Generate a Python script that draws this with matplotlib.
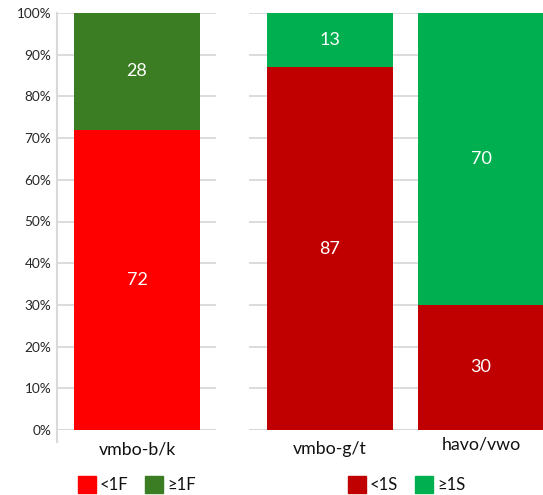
import matplotlib
matplotlib.use("Agg")
import matplotlib.pyplot as plt
from matplotlib.patches import Rectangle
from matplotlib.lines import Line2D

plt.rcParams['font.family'] = ['Lato', 'DejaVu Sans']

# Left panel data
left_cats = ["vmbo-b/k"]
left_below = [72]
left_above = [28]
left_names = ["<1F", "≥1F"]
left_colors = ["#FF0000", "#3A7D22"]

# Right panel data
right_cats = ["vmbo-g/t", "havo/vwo"]
right_below = [87, 30]
right_above = [13, 70]
right_names = ["<1S", "≥1S"]
right_colors = ["#C00000", "#00B050"]

yticks = list(range(0, 101, 10))
ytick_labels = [f"{v}%" for v in yticks]

W, H = 543, 495
fig = plt.figure(figsize=(W / 100, H / 100), dpi=100)

bottom = (H - 430) / H
height = (430 - 13) / H
unit = 151.0  # pixels per category step
bar_w = 126 / unit
grid_c = "#D9D9D9"
axis_c = "#BFBFBF"
text_c = "#111111"


def px(x):
    return x / W


axL = fig.add_axes([px(57), bottom, px(216 - 57), height])
axR = fig.add_axes([px(249), bottom, px(543 - 249), height])


def draw_panel(ax, cats, below, above, colors, xlim):
    xs = list(range(len(cats)))
    ax.bar(xs, below, width=bar_w, color=colors[0], zorder=2)
    ax.bar(xs, above, width=bar_w, bottom=below, color=colors[1], zorder=2)
    for x, b, a in zip(xs, below, above):
        ax.text(x, b / 2, f"{b}", ha="center", va="center", color="white", fontsize=13, zorder=3)
        ax.text(x, b + a / 2, f"{a}", ha="center", va="center", color="white", fontsize=13, zorder=3)
    ax.set_xlim(*xlim)
    ax.set_ylim(0, 100)
    ax.set_yticks(yticks)
    ax.grid(axis="y", color=grid_c, linewidth=1.3, zorder=0)
    for s in ax.spines.values():
        s.set_visible(False)
    ax.axhline(0, color=axis_c, linewidth=1.3, zorder=1)
    ax.set_xticks(xs)
    ax.set_xticklabels(cats, fontsize=12.8, color=text_c)
    ax.tick_params(axis="x", length=0, pad=8)
    ax.tick_params(axis="y", length=0)


draw_panel(axL, left_cats, left_below, left_above, left_colors,
           ((57 - 137) / unit, (216 - 137) / unit))
draw_panel(axR, right_cats, right_below, right_above, right_colors,
           ((249 - 330) / unit, (543 - 330) / unit))

axL.set_yticklabels(ytick_labels, fontsize=9.8, color="#262626")
axL.tick_params(axis="y", pad=4)
axR.set_yticklabels([])
# second category label sits a little higher
axR.get_xticklabels()[1].set_y(0.012)

# left vertical axis line, running slightly below zero
fig.add_artist(Line2D([px(57), px(57)], [(H - 442) / H, (H - 13) / H],
                      color=grid_c, linewidth=1.5))


def legend(x0, names, colors):
    y0 = (H - 493) / H
    sq_w, sq_h = 18 / W, 17 / H
    x = x0
    for name, col, gap in zip(names, colors, [49, 0]):
        fig.add_artist(Rectangle((px(x), y0), sq_w, sq_h, color=col,
                                 transform=fig.transFigure))
        fig.text(px(x + 22), y0 + sq_h / 2, name, ha="left", va="center",
                 fontsize=12, color=text_c)
        x += 18 + gap


legend(78, left_names, left_colors)
legend(348, right_names, right_colors)

fig.savefig("out.png", dpi=100)
